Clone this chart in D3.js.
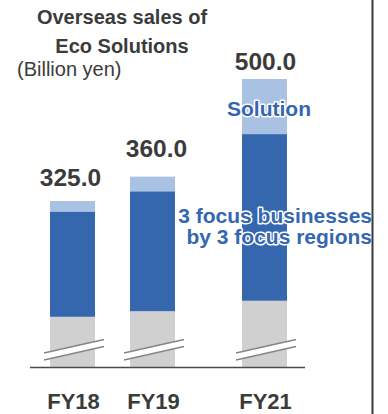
<!DOCTYPE html>
<html>
<head>
<meta charset="utf-8">
<script src="https://cdn.jsdelivr.net/npm/d3@7/dist/d3.min.js"></script>
<style>
  html, body { margin: 0; padding: 0; background: #fff; }
  svg { display: block; font-family: "Liberation Sans", Arial, sans-serif; }
</style>
</head>
<body>
<svg id="chart" width="388" height="414"></svg>
<script>
// Overseas sales of Eco Solutions (billion yen), stacked by segment
const years = ["FY18", "FY19", "FY21"];
const otherSales = [159, 167, 182];      // grey base (axis broken)
const focusSales = [151, 172, 239];      // 3 focus businesses by 3 focus regions
const solutionSales = [15, 21, 79];      // Solution
const totals = [325.0, 360.0, 500.0];
const totalLabels = ["325.0", "360.0", "500.0"];

// layout
const W = 388, H = 414;
const baseY = 367, topY = 79;
const axisFloor = 87;                    // value shown at the (broken) baseline
const barW = 45;
const labelLift = [15, 20, 9];
const labelShift = [-2, 4, 1];

const colors = { other: "#d0d0d0", focus: "#3567ae", solution: "#a9c1e3" };
const textDark = "#3b3b3b";
const textBlue = "#3567b0";

const svg = d3.select("#chart");

const rows = years.map((y, i) => ({
  year: y, other: otherSales[i], focus: focusSales[i], solution: solutionSales[i]
}));
const series = d3.stack().keys(["other", "focus", "solution"])(rows);

const y = d3.scaleLinear().domain([axisFloor, 500]).range([baseY, topY]).clamp(true);
// FY20 is not shown, so the FY21 column sits further right
const x = d3.scaleOrdinal().domain(years).range([72.5, 152.5, 264.5]);

// bars
svg.append("g").selectAll("g")
  .data(series).join("g")
  .attr("fill", d => colors[d.key])
  .selectAll("rect")
  .data(d => d).join("rect")
  .attr("x", d => x(d.data.year) - barW / 2)
  .attr("width", barW)
  .attr("y", d => y(d[1]))
  .attr("height", d => y(d[0]) - y(d[1]));

// baseline
svg.append("line")
  .attr("x1", 30).attr("x2", 305)
  .attr("y1", baseY + 0.5).attr("y2", baseY + 0.5)
  .attr("stroke", "#4a4a4a").attr("stroke-width", 1.3);

// axis break marks across each bar
const brk = svg.append("g");
years.forEach(yr => {
  const cx = x(yr);
  const x0 = cx - 28.5, x1 = cx + 31.5;
  const uL = baseY - 14, uR = baseY - 27.5;
  const lL = baseY - 7, lR = baseY - 20.5;
  brk.append("path")
    .attr("d", `M${x0},${uL}L${x1},${uR}L${x1},${lR}L${x0},${lL}Z`)
    .attr("fill", "#fff");
  brk.append("line").attr("x1", x0).attr("y1", uL).attr("x2", x1).attr("y2", uR)
    .attr("stroke", "#858585").attr("stroke-width", 1.6);
  brk.append("line").attr("x1", x0).attr("y1", lL).attr("x2", x1).attr("y2", lR)
    .attr("stroke", "#858585").attr("stroke-width", 1.6);
});

// total value labels
svg.append("g").selectAll("text")
  .data(years).join("text")
  .attr("x", (d, i) => x(d) + labelShift[i])
  .attr("y", (d, i) => y(totals[i]) - labelLift[i])
  .attr("text-anchor", "middle")
  .attr("font-size", 24.5).attr("font-weight", "bold")
  .attr("fill", textDark)
  .text((d, i) => totalLabels[i]);

// category labels
svg.append("g").selectAll("text")
  .data(years).join("text")
  .attr("x", d => x(d) + 1)
  .attr("y", 409)
  .attr("text-anchor", "middle")
  .attr("font-size", 22).attr("font-weight", "bold")
  .attr("fill", textDark)
  .text(d => d);

// title
const title = svg.append("text")
  .attr("text-anchor", "middle")
  .attr("font-size", 20).attr("font-weight", "bold")
  .attr("fill", textDark);
title.append("tspan").attr("x", 122).attr("y", 24).text("Overseas sales of");
title.append("tspan").attr("x", 122).attr("y", 53).text("Eco Solutions");

svg.append("text")
  .attr("x", 17).attr("y", 76)
  .attr("font-size", 20)
  .attr("fill", textDark)
  .text("(Billion yen)");

// segment annotations with white halo
function halo(sel) {
  sel.attr("fill", textBlue)
    .attr("font-weight", "bold")
    .attr("stroke", "#fff").attr("stroke-width", 3)
    .attr("stroke-linejoin", "round")
    .attr("paint-order", "stroke");
}
svg.append("text")
  .attr("x", 269).attr("y", 116)
  .attr("text-anchor", "middle")
  .attr("font-size", 21)
  .call(halo)
  .text("Solution");

const focusNote = svg.append("text")
  .attr("text-anchor", "end")
  .attr("font-size", 21)
  .call(halo);
focusNote.append("tspan").attr("x", 372).attr("y", 223).text("3 focus businesses");
focusNote.append("tspan").attr("x", 372).attr("y", 244).text("by 3 focus regions");

// right frame edge
svg.append("line")
  .attr("x1", 372.5).attr("x2", 372.5)
  .attr("y1", 0).attr("y2", H)
  .attr("stroke", "#3a3a3a").attr("stroke-width", 2);
</script>
</body>
</html>
